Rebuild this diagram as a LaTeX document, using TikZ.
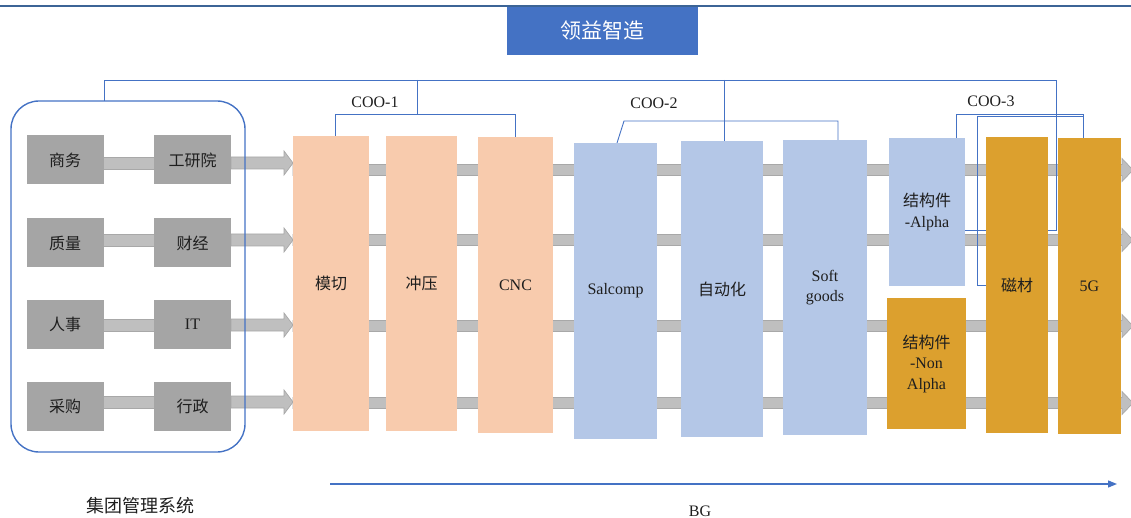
\documentclass[tikz,border=0pt]{standalone}
\usepackage{fontspec}
\setmainfont{Liberation Serif}
\newfontfamily\cjk{Noto Sans CJK SC}
\usetikzlibrary{calc,arrows.meta}
\definecolor{topline}{HTML}{3C6496}
\definecolor{tblue}{HTML}{4472C4}
\definecolor{peach}{HTML}{F8CBAD}
\definecolor{lblue}{HTML}{B4C7E7}
\definecolor{gold}{HTML}{DCA02E}
\definecolor{gbox}{HTML}{A5A5A5}
\definecolor{gbar}{HTML}{BFBFBF}
\definecolor{gbarline}{HTML}{A8A8A8}
\definecolor{txt}{HTML}{1E1E1E}
\pgfdeclarelayer{bg}
\pgfdeclarelayer{mid}
\pgfsetlayers{bg,mid,main}
\begin{document}
\begin{tikzpicture}[x=1pt,y=-1pt,
  graybox/.style={fill=gbox, minimum width=77pt, minimum height=49pt, inner sep=0pt, outer sep=0pt, text=txt, font=\fontsize{16}{18}\selectfont},
  unitbox/.style={anchor=north west, inner sep=0pt, outer sep=0pt, text=txt, align=center, font=\fontsize{16}{20.5}\selectfont},
  bar/.style={fill=gbar, draw=gbarline, line width=0.7pt},
  conn/.style={draw=tblue, line width=0.9pt},
  lbl/.style={text=txt, font=\fontsize{16}{18}\selectfont}]
\useasboundingbox (0,0) rectangle (1131,518);

% top rule and title
\coordinate (tl) at (0,6);
\coordinate (tr) at (1131,6);
\draw[topline, line width=2.5pt] (tl) -- (tr);
\node[fill=tblue, minimum width=191pt, minimum height=48pt, inner sep=0pt, text=white, font=\cjk\fontsize{21}{24}\selectfont] (title) at (602.5,31) {领益智造};

% group box with gray units
\node[graybox] (L1) at (65,160) {{\cjk 商务}};
\node[graybox] (R1) at (192.5,160) {{\cjk 工研院}};
\node[graybox] (L2) at (65,243) {{\cjk 质量}};
\node[graybox] (R2) at (192.5,243) {{\cjk 财经}};
\node[graybox] (L3) at (65,324.5) {{\cjk 人事}};
\node[graybox] (R3) at (192.5,324.5) {IT};
\node[graybox] (L4) at (65,406.5) {{\cjk 采购}};
\node[graybox] (R4) at (192.5,406.5) {{\cjk 行政}};
\node[draw=tblue, line width=1.4pt, rounded corners=28pt, minimum width=234pt, minimum height=351pt, anchor=north west, inner sep=0pt, outer sep=0pt] (grp) at (11,101) {};

% business units
\node[unitbox, fill=peach, minimum width=76pt, minimum height=295pt] (mq) at (293,136) {{\cjk 模切}};
\node[unitbox, fill=peach, minimum width=71pt, minimum height=295pt] (cy) at (386,136) {{\cjk 冲压}};
\node[unitbox, fill=peach, minimum width=75pt, minimum height=296pt] (cnc) at (478,137) {CNC};
\node[unitbox, fill=lblue, minimum width=83pt, minimum height=296pt] (sal) at (574,143) {Salcomp};
\node[unitbox, fill=lblue, minimum width=82pt, minimum height=296pt] (zd) at (681,141) {{\cjk 自动化}};
\node[unitbox, fill=lblue, minimum width=84pt, minimum height=295pt] (sg) at (783,140) {Soft\\goods};
\node[unitbox, fill=lblue, minimum width=76pt, minimum height=148pt] (al) at (889,138) {{\cjk 结构件}\\-Alpha};
\node[unitbox, fill=gold, minimum width=79pt, minimum height=131pt] (na) at (887,298) {{\cjk 结构件}\\-Non\\Alpha};
\node[unitbox, fill=gold, minimum width=62pt, minimum height=296pt] (cc) at (986,137) {{\cjk 磁材}};
\node[unitbox, fill=gold, minimum width=63pt, minimum height=296pt] (fg) at (1058,138) {5G};

% labels
\node[lbl] (coo1) at (375,102) {COO-1};
\node[lbl] (coo2) at (654,103) {COO-2};
\node[lbl] (coo3) at (991,101) {COO-3};
\node[text=txt, font=\cjk\fontsize{18}{20}\selectfont] (grpl) at (140,506) {集团管理系统};
\node[lbl, anchor=base] (bgl) at (700,516) {BG};

% BG arrow
\coordinate (bgs) at (330,484);
\coordinate (bge) at (1117,484);
\draw[tblue, line width=1.3pt, -{Triangle[length=9pt,width=7pt]}] (bgs) -- (bge);

% gray process arrows
\begin{pgfonlayer}{bg}
\foreach \i/\ys/\yl in {1/163/170,2/240/240,3/325/326,4/402/403}{
  \coordinate (s\i) at (0,\ys);
  \coordinate (l\i) at (0,\yl);
  \coordinate (e\i) at (1133,\yl);
  \draw[bar] ($(mq.west |- l\i)+(0,-5.5)$) -- ($(e\i)+(-11,-5.5)$) -- ($(e\i)+(-11,-11.5)$) -- (e\i)
     -- ($(e\i)+(-11,11.5)$) -- ($(e\i)+(-11,5.5)$) -- ($(mq.west |- l\i)+(0,5.5)$) -- cycle;
  \draw[bar] ($(L\i.east |- s\i)+(0,-6)$) -- ($(R\i.west |- s\i)+(0,-6)$) -- ($(R\i.west |- s\i)+(0,6)$) -- ($(L\i.east |- s\i)+(0,6)$) -- cycle;
  \draw[bar] ($(R\i.east |- s\i)+(0,-6)$) -- ($(mq.west |- s\i)+(-9,-6)$) -- ($(mq.west |- s\i)+(-9,-12)$) -- (mq.west |- s\i)
     -- ($(mq.west |- s\i)+(-9,12)$) -- ($(mq.west |- s\i)+(-9,6)$) -- ($(R\i.east |- s\i)+(0,6)$) -- cycle;
}
\end{pgfonlayer}

% organisation connectors
\begin{pgfonlayer}{mid}
\coordinate (hL) at (104,80);
\coordinate (hR) at (1056,80);
\coordinate (hRd) at (1056,230);
\draw[conn] (grp.north -| hL) -- (hL) -- (hR) -- (hRd) -- (al.east |- hRd);
% COO-1
\coordinate (c1) at (417,80);
\coordinate (c1b) at (417,114);
\coordinate (c1l) at (335,114);
\coordinate (c1r) at (515,114);
\draw[conn] (c1) -- (c1b);
\draw[conn] (mq.north -| c1l) -- (c1l) -- (c1r) -- (cnc.north -| c1r);
% COO-2
\coordinate (c2) at (724,80);
\coordinate (c2l) at (624,121);
\coordinate (c2r) at (838,121);
\coordinate (c2s) at (617,0);
\draw[conn] (c2) -- (zd.north -| c2);
\draw[conn] (sal.north -| c2s) -- (c2l) -- (c2r) -- (sg.north -| c2r);
% COO-3
\coordinate (c3l) at (956,114);
\coordinate (c3r) at (1083,114);
\coordinate (c3a) at (1083,116);
\coordinate (c3b) at (977,116);
\coordinate (c3c) at (977,285);
\draw[conn] (al.north -| c3l) -- (c3l) -- (c3r) -- (fg.north -| c3r);
\draw[conn] (c3a) -- (c3b) -- (c3c) -- (cc.west |- c3c);
\end{pgfonlayer}
\end{tikzpicture}
\end{document}
